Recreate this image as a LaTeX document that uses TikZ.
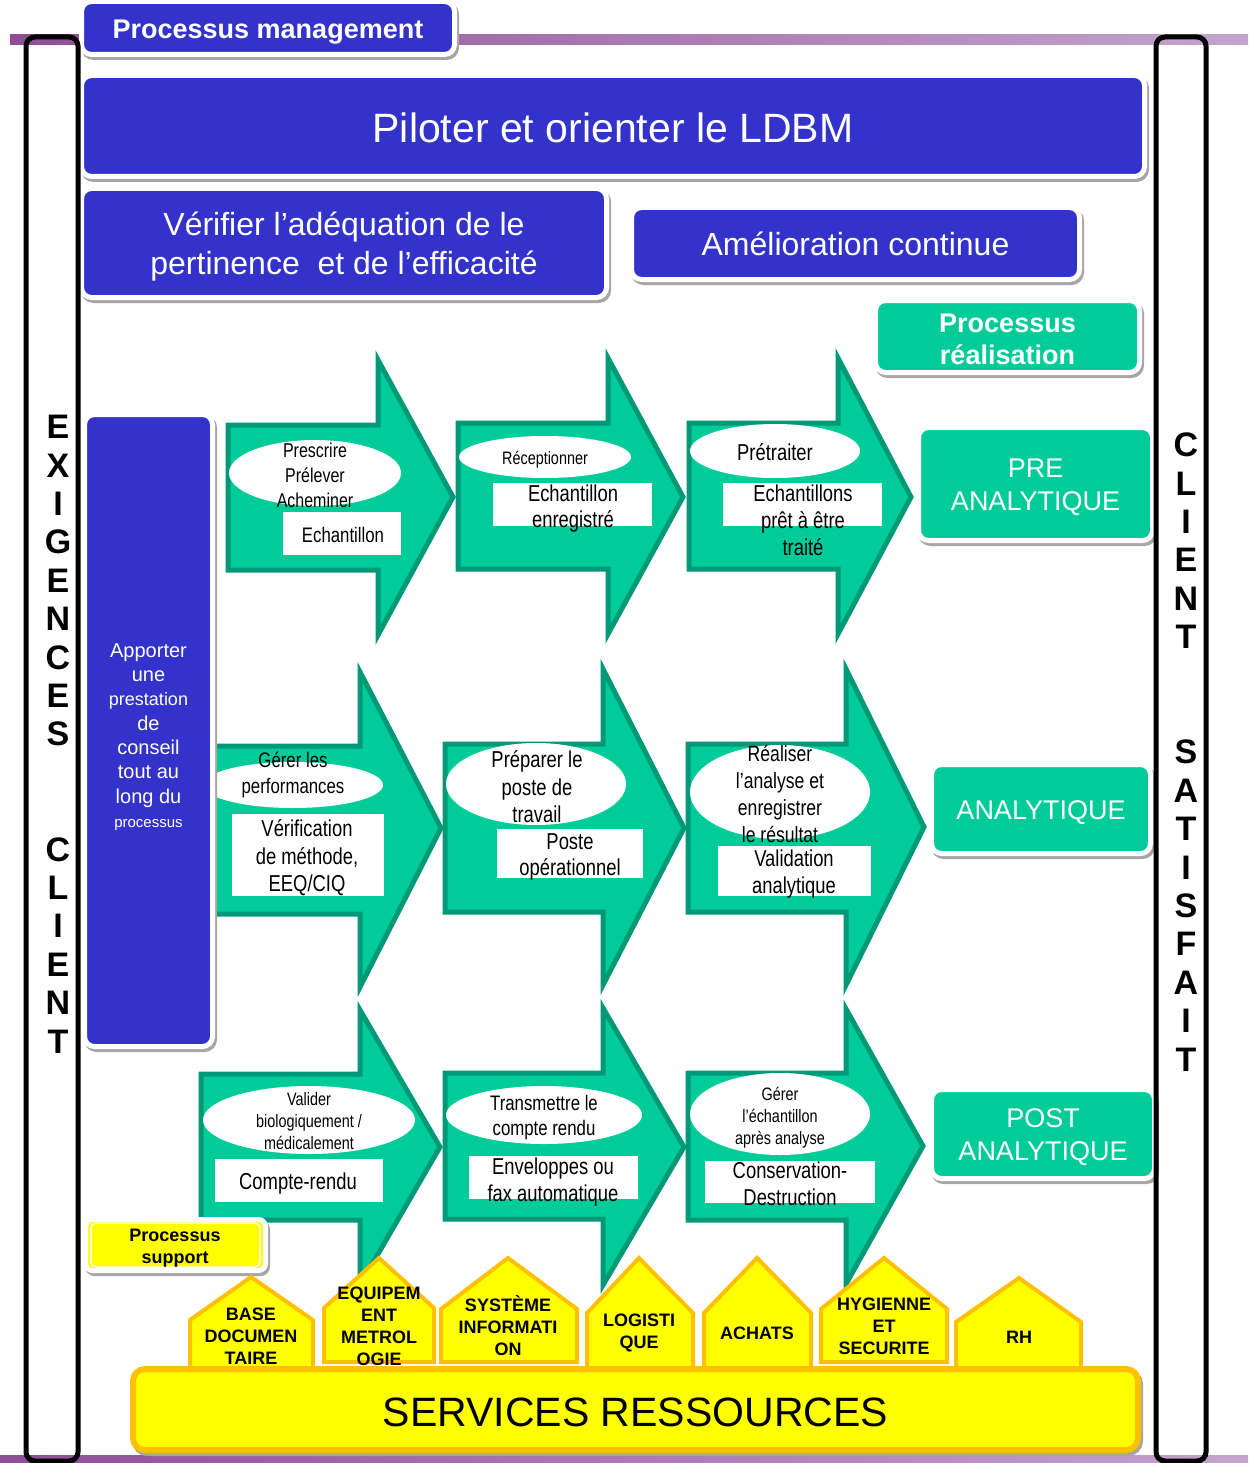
\documentclass[tikz,border=0pt]{standalone}
\usepackage{fontspec}
\setmainfont{Liberation Sans}
\newfontfamily\narrow[FakeStretch=0.8]{Liberation Sans}
\usetikzlibrary{shapes.geometric}
\definecolor{pblue}{HTML}{3333CC}
\definecolor{pgreen}{HTML}{00CC99}
\definecolor{pgreenD}{HTML}{009977}
\definecolor{pyel}{HTML}{FFFF00}
\definecolor{porange}{HTML}{FFC000}
\definecolor{pshadow}{HTML}{A6A6A6}
\definecolor{purpA}{HTML}{8E4E96}
\definecolor{purpB}{HTML}{C4A4CC}
\newcommand\setfs[2]{\fontsize{#1}{#2}\selectfont}
\newcommand\procarrow[8]{\draw[flow] (#1,#3) -- (#2,#3) -- (#2,#5) -- (#6,#7) -- (#2,#8) -- (#2,#4) -- (#1,#4) -- cycle;}
\begin{document}
\begin{tikzpicture}[x=1pt,y=-1pt,
  panel/.style={rectangle, rounded corners=10pt, draw=white, line width=5pt, inner sep=0pt, outer sep=0pt,
    preaction={fill=pshadow, draw=pshadow, transform canvas={xshift=2pt,yshift=-3pt}}},
  bluepanel/.style={panel, fill=pblue},
  greenpanel/.style={panel, fill=pgreen},
  ptxt/.style={inner sep=0pt, align=center, text=white},
  flow/.style={fill=pgreen, draw=pgreenD, line width=5pt, line join=miter},
  ell/.style={ellipse, fill=white, draw=none, inner sep=0pt},
  wbox/.style={rectangle, fill=white, draw=none, inner sep=0pt},
  lbl/.style={inner sep=0pt, align=center, text=black},
  house/.style={fill=pyel, draw=porange, line width=4pt, line join=miter},
  htxt/.style={inner sep=0pt, align=center, text=black, font=\bfseries\setfs{18}{22}},
  vlet/.style={inner sep=0pt, text=black, font=\bfseries\setfs{34}{34}},
  blk/.style={draw=black, line width=5pt, rounded corners=9pt}
]
\useasboundingbox (0,0) rectangle (1248,1463);
\fill[white] (0,0) rectangle (1248,1463);

% purple bands
\shade[left color=purpA, right color=purpB] (10,35) rectangle (1248,45);
\shade[left color=purpA, right color=purpB] (0,1455) rectangle (1248,1463);

% management panels
\node[bluepanel, minimum width=373, minimum height=53] (pm) at (268,28) {};
\node[ptxt, font=\bfseries\setfs{27}{32}] (pmt) at (268,32) {Processus management};
\node[bluepanel, minimum width=1063, minimum height=101] (pil) at (613,126) {};
\node[ptxt, font=\setfs{41}{48}] (pilt) at (613,127.5) {Piloter et orienter le LDBM};
\node[bluepanel, minimum width=525, minimum height=109] (ver) at (344,243) {};
\node[ptxt, font=\setfs{32}{39}] (vert) at (344,247) {Vérifier l’adéquation de le\\pertinence~~et de l’efficacité};
\node[bluepanel, minimum width=448, minimum height=72] (ame) at (855.5,243.5) {};
\node[ptxt, font=\setfs{32}{39}] (amet) at (855.5,244) {Amélioration continue};
\node[greenpanel, minimum width=264, minimum height=72] (pr) at (1007.5,336.5) {};
\node[ptxt, font=\bfseries\setfs{27}{32}] (prt) at (1007.5,339) {Processus\\réalisation};

% arrows
\procarrow{228}{378}{425}{570}{360}{453}{497}{635}
\procarrow{458}{608}{423}{569}{358}{683}{497}{634}
\procarrow{689}{838}{423}{569}{358}{911}{497}{634}
\procarrow{205}{360}{746}{914}{672}{441}{828}{987}
\procarrow{445}{603}{744}{912}{669}{684}{828}{985}
\procarrow{688}{846}{744}{912}{669}{924}{827}{985}
\procarrow{201}{360}{1074}{1220}{1010}{440}{1147}{1285}
\procarrow{445}{603}{1073}{1219}{1008}{684}{1147}{1285}
\procarrow{688}{846}{1073}{1220}{1009}{923}{1146}{1284}

% ellipses
\node[ell, minimum width=172, minimum height=66] (e11) at (315,473) {};
\node[ell, minimum width=172, minimum height=42] (e12) at (545,457) {};
\node[ell, minimum width=170, minimum height=54] (e13) at (775,451) {};
\node[ell, minimum width=180, minimum height=46] (e21) at (293,785) {};
\node[ell, minimum width=180, minimum height=82] (e22) at (536,784) {};
\node[ell, minimum width=180, minimum height=94] (e23) at (780,792) {};
\node[ell, minimum width=212, minimum height=68] (e31) at (309,1120) {};
\node[ell, minimum width=196, minimum height=58] (e32) at (544,1115) {};
\node[ell, minimum width=180, minimum height=82] (e33) at (780,1114) {};

% white boxes
\node[wbox, minimum width=118, minimum height=43] (r11) at (342,533.5) {};
\node[wbox, minimum width=159, minimum height=43] (r12) at (572.5,504.5) {};
\node[wbox, minimum width=159, minimum height=43] (r13) at (802.5,504.5) {};
\node[wbox, minimum width=152, minimum height=82] (r21) at (308,855) {};
\node[wbox, minimum width=146, minimum height=49] (r22) at (570,853.5) {};
\node[wbox, minimum width=153, minimum height=50] (r23) at (794.5,871) {};
\node[wbox, minimum width=168, minimum height=43] (r31) at (299,1180.5) {};
\node[wbox, minimum width=169, minimum height=43] (r32) at (553.5,1177.5) {};
\node[wbox, minimum width=170, minimum height=42] (r33) at (790,1182) {};

% labels
\node[lbl, font=\narrow\setfs{20}{25}] (t11) at (315,475) {Prescrire\\Prélever\\Acheminer};
\node[lbl, font=\narrow\setfs{21}{25}] (u11) at (343,535) {Echantillon};
\node[lbl, font=\narrow\setfs{18}{22}] (t12) at (545,460) {Réceptionner};
\node[lbl, font=\narrow\setfs{23}{26}] (u12) at (573,509) {Echantillon\\enregistré};
\node[lbl, font=\narrow\setfs{23}{27}] (t13) at (775,452) {Prétraiter};
\node[lbl, font=\narrow\setfs{23}{27}] (u13) at (803,520) {Echantillons\\prêt à être\\traité};
\node[lbl, font=\narrow\setfs{21}{26}] (t21) at (293,775) {Gérer les\\performances};
\node[lbl, font=\narrow\setfs{23}{27.5}] (u21) at (307,858) {Vérification\\de méthode,\\EEQ/CIQ};
\node[lbl, font=\narrow\setfs{23}{27.5}] (t22) at (537,787) {Préparer le\\poste de\\travail};
\node[lbl, font=\narrow\setfs{23}{26}] (u22) at (570,857) {Poste\\opérationnel};
\node[lbl, font=\narrow\setfs{22}{27.3}] (t23) at (780,794) {Réaliser\\l’analyse et\\enregistrer\\le résultat};
\node[lbl, font=\narrow\setfs{23}{27}] (u23) at (794,874) {Validation\\analytique};
\node[lbl, font=\narrow\setfs{18}{22}] (t31) at (309,1121) {Valider\\biologiquement /\\médicalement};
\node[lbl, font=\narrow\setfs{23}{27}] (u31) at (298,1184) {Compte-rendu};
\node[lbl, font=\narrow\setfs{21}{25}] (t32) at (544,1118) {Transmettre le\\compte rendu};
\node[lbl, font=\narrow\setfs{23}{27}] (u32) at (553,1182) {Enveloppes ou\\fax automatique};
\node[lbl, font=\narrow\setfs{18}{22}] (t33) at (780,1118) {Gérer\\l’échantillon\\après analyse};
\node[lbl, font=\narrow\setfs{23}{27}] (u33) at (790,1184) {Conservation-\\Destruction};

% side panel
\node[bluepanel, minimum width=128, minimum height=632] (app) at (148.5,730.5) {};
\node[ptxt, font=\setfs{20}{24.3}] (appt) at (148.5,737)
  {Apporter\\une\\{\setfs{18}{24.3}prestation}\\de\\conseil\\tout au\\long du\\{\setfs{15}{22}processus}};

% result panels
\node[greenpanel, minimum width=234, minimum height=113] (pre) at (1035.5,484) {};
\node[ptxt, font=\setfs{27}{33}] (pret) at (1035.5,487) {PRE\\ANALYTIQUE};
\node[greenpanel, minimum width=219, minimum height=89] (ana) at (1041,809) {};
\node[ptxt, font=\setfs{27}{33}] (anat) at (1041,813) {ANALYTIQUE};
\node[greenpanel, minimum width=223, minimum height=89] (post) at (1043,1134) {};
\node[ptxt, font=\setfs{27}{33}] (postt) at (1043,1137) {POST\\ANALYTIQUE};

% support
\node[panel, fill=pyel, minimum width=180, minimum height=51, rounded corners=7pt] (sup) at (175.5,1245) {};
\draw[white, line width=1.5pt, rounded corners=5pt] (91,1223) rectangle (260,1267);
\node[lbl, font=\bfseries\setfs{18}{22}] (supt) at (175,1248) {Processus\\support};

% houses
\draw[house] (190,1372) -- (190,1320) -- (251,1277) -- (313,1320) -- (313,1372) -- cycle;
\draw[house] (324,1362) -- (324,1308) -- (379,1258) -- (434,1308) -- (434,1362) -- cycle;
\draw[house] (441,1362) -- (441,1309) -- (508,1258) -- (577,1309) -- (577,1362) -- cycle;
\draw[house] (587,1372) -- (587,1313) -- (639,1258) -- (693,1313) -- (693,1372) -- cycle;
\draw[house] (704,1372) -- (704,1313) -- (757,1258) -- (811,1313) -- (811,1372) -- cycle;
\draw[house] (821,1362) -- (821,1309) -- (884,1258) -- (947,1309) -- (947,1362) -- cycle;
\draw[house] (956,1372) -- (956,1322) -- (1019,1278) -- (1081,1322) -- (1081,1372) -- cycle;

\node[htxt] (h1) at (251,1336) {BASE\\DOCUMEN\\TAIRE};
\node[htxt] (h2) at (379,1326) {EQUIPEM\\ENT\\METROL\\OGIE};
\node[htxt] (h3) at (508,1326) {SYSTÈME\\INFORMATI\\ON};
\node[htxt] (h4) at (639,1333) {LOGISTI\\QUE};
\node[htxt] (h5) at (757,1333) {ACHATS};
\node[htxt] (h6) at (884,1326) {HYGIENNE\\ET\\SECURITE};
\node[htxt] (h7) at (1019,1337) {RH};

% services
\node[rectangle, rounded corners=12pt, fill=pyel, draw=porange, line width=6pt, inner sep=0pt,
  minimum width=1005, minimum height=81, font=\setfs{41}{48},
  preaction={fill=pshadow, draw=pshadow, transform canvas={xshift=2pt,yshift=-3pt}}] (svc) at (635.5,1409.5) {};
\node[lbl, font=\setfs{41}{48}] (svct) at (635.5,1412) {SERVICES RESSOURCES};

% side frames
\draw[blk] (26,37) rectangle (78,1461);
\draw[blk] (1156,37) rectangle (1206,1461);

\foreach \ch [count=\i from 0] in {E,X,I,G,E,N,C,E,S,{},{},C,L,I,E,N,T}
  {\node[vlet] (ex\i) at (58,{427+38.4*\i}) {\ch};}
\foreach \ch [count=\i from 0] in {C,L,I,E,N,T,{},{},S,A,T,I,S,F,A,I,T}
  {\node[vlet] (cs\i) at (1186,{445+38.4*\i}) {\ch};}
\end{tikzpicture}
\end{document}
